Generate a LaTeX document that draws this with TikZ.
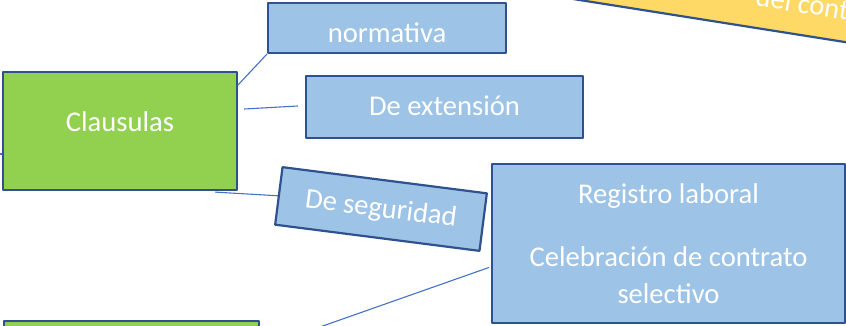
\documentclass[tikz,border=0pt]{standalone}
\usepackage{fontspec}
\setmainfont{Carlito}
\begin{document}
\begin{tikzpicture}[x=1pt,y=-1pt,line join=round,font=\fontsize{28.6}{37}\selectfont]
	%\draw[gray!50] (0,0) grid[step=50] (846,325);
	\definecolor{verdeclaro}{HTML}{92D050}
	\definecolor{azulclaro}{HTML}{9DC3E6}
	\definecolor{azulborde}{HTML}{2F528F}
	\definecolor{azullinea}{HTML}{4472C4}
	\definecolor{amarillo}{HTML}{FFD966}
	\tikzset{
		caja/.style={draw=azulborde,line width=2.2pt,text=white,inner sep=0pt,text height=18pt,text depth=2pt},
		verde/.style={caja,fill=verdeclaro},
		azul/.style={caja,fill=azulclaro},
		enlace/.style={azullinea,line width=1.1pt}
	}
	\useasboundingbox (0,0) rectangle (846,325);
	\clip (0,0) rectangle (846,325);
	
	\node[caja,fill=amarillo,rotate=-9,minimum width=600pt,minimum height=60pt] (titulo) at (825.6,8.6) {del contrato};
	
	\node[verde,minimum width=234pt,minimum height=118pt,text height=18pt,text depth=18pt] (clausulas) at (120,131) {Clausulas};
	\node[verde,minimum width=255pt,minimum height=100pt,anchor=north west] (inferior) at (3,320) {};
	
	\node[azul,minimum width=238pt,minimum height=50pt,text height=28pt,text depth=0pt] (normativa) at (387,28) {normativa};
	\node[azul,minimum width=277pt,minimum height=62pt] (extension) at (444.5,107) {De extensión};
	\node[azul,rotate=-7.3,minimum width=206pt,minimum height=58pt] (seguridad) at (381,209) {De seguridad};
	\node[azul,minimum width=353pt,minimum height=159pt,align=center,text height={},text depth={}] (registro) at (668.5,243.5)
		{Registro laboral\\[26pt]Celebración de contrato\\selectivo};
	
	\coordinate (izquierda) at (-10,154);
	\coordinate (abajo) at (300,334);
	\draw[enlace] (izquierda) -- ([shift={(0,23)}]clausulas.west);
	\draw[enlace] ([shift={(0,14)}]clausulas.north east) -- (normativa.south west);
	\draw[enlace] ([shift={(6,-22)}]clausulas.east) -- ([shift={(-7,-1)}]extension.west);
	\draw[enlace] ([shift={(-23,1)}]clausulas.south east) -- (seguridad.west);
	\draw[enlace] (abajo) -- ([shift={(-2,24)}]registro.west);
\end{tikzpicture}
\end{document}
